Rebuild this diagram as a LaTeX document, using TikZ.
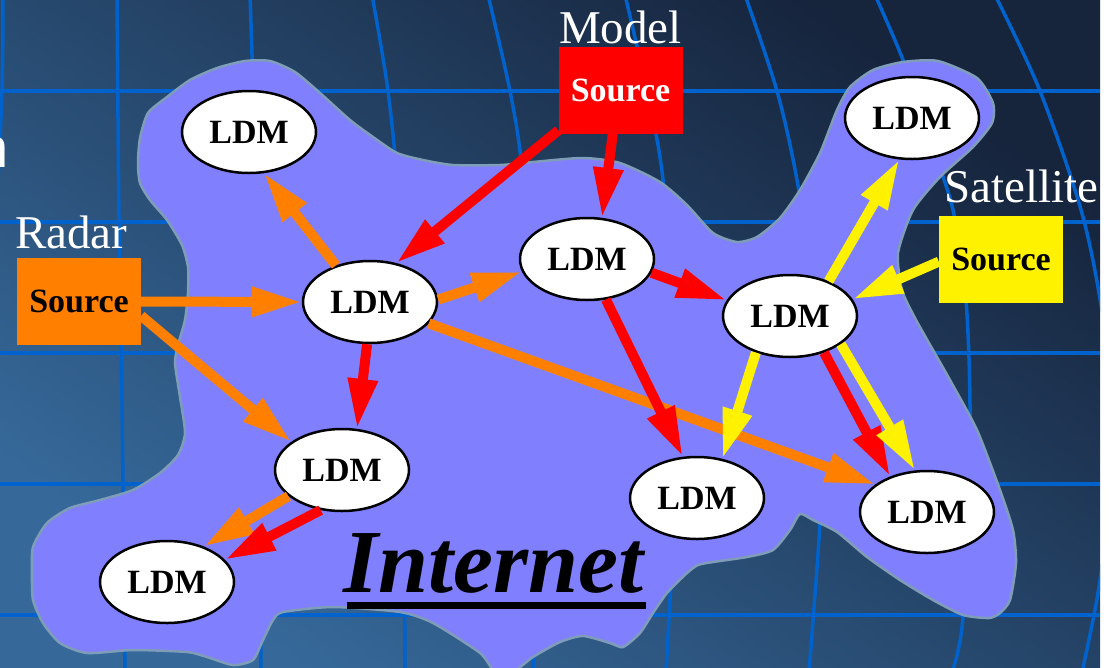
\documentclass[tikz,border=0pt]{standalone}
\usepackage{fontspec}
\setmainfont{Liberation Serif}
\newfontfamily\titlefont{Liberation Sans}
\usetikzlibrary{arrows.meta,shapes.geometric}

\definecolor{bgtop}{HTML}{16243C}
\definecolor{bgmid}{HTML}{2B5685}
\definecolor{bgbot}{HTML}{36699A}
\definecolor{gridblue}{HTML}{0062CC}
\definecolor{cloudfill}{HTML}{8080FF}
\definecolor{cloudedge}{HTML}{7F9CB8}
\definecolor{feedorange}{HTML}{FF8000}
\definecolor{feedred}{HTML}{FF0000}
\definecolor{feedyellow}{HTML}{FFF200}

\begin{document}
\begin{tikzpicture}[x=1pt, y=-1pt,
  ldm/.style={ellipse, draw=black, line width=2.5pt, fill=white, minimum width=134pt, minimum height=82pt, inner sep=0pt, font=\bfseries\fontsize{34}{34}\selectfont},
  src/.style={rectangle, minimum width=124pt, minimum height=87pt, inner sep=0pt, font=\bfseries\fontsize{34}{34}\selectfont},
  lbl/.style={inner sep=0pt, text=white, font=\fontsize{47}{47}\selectfont, anchor=base west},
  feed/.style={line width=10pt, -{Triangle[length=50pt,width=28pt]}},
  gridline/.style={draw=gridblue, line width=3.5pt},
]

\useasboundingbox (0,0) rectangle (1116,667);

% background with globe grid
\shade[top color=bgtop, middle color=bgmid, bottom color=bgbot, shading angle=-35] (0,0) rectangle (1100,667);
\begin{scope}
\clip (0,0) rectangle (1100,667);
\foreach \y in {91,222,353,484,615}
  \draw[gridline] (0,\y) -- (1100,\y);
\draw[gridline] plot[smooth] coordinates {(3,-5) (2,91) (-4,222)};
\draw[gridline] plot[smooth] coordinates {(117,-5) (119,222) (122,400) (125,672)};
\draw[gridline] plot[smooth] coordinates {(250,-5) (253,91) (257,300) (260,500) (261,672)};
\draw[gridline] plot[smooth] coordinates {(372,-5) (388,91) (398,200) (403,400) (405,672)};
\draw[gridline] plot[smooth] coordinates {(488,-5) (510,91) (522,170) (532,330) (537,450) (533,672)};
\draw[gridline] plot[smooth] coordinates {(625,-5) (647,91) (663,180) (675,350) (677,480) (670,600) (666,672)};
\draw[gridline] plot[smooth] coordinates {(745,-5) (777,91) (797,180) (815,300) (822,430) (820,523) (809,672)};
\draw[gridline] plot[smooth] coordinates {(875,-5) (903,60) (930,140) (953,210) (966,300) (970,430) (963,617) (952,672)};
\draw[gridline] plot[smooth] coordinates {(995,-5) (1040,91) (1083,217) (1105,333) (1112,450) (1100,580) (1082,672)};
\end{scope}

% cut-off title letter
\node[anchor=base east, inner sep=0pt, text=white, font=\titlefont\fontsize{56}{56}\selectfont] (title) at (9,167) {n};

% internet cloud
\draw[fill=cloudfill, draw=cloudedge, line width=2.5pt] plot[smooth cycle, tension=0.4] coordinates {
  (148,113) (167,97) (190,80) (217,68) (245,61) (270,61) (295,72) (320,93) (350,120) (373,137)
  (397,153) (423,160) (453,165) (500,165) (533,162) (583,158) (620,163) (660,182) (687,205)
  (713,233) (737,242) (757,237) (780,218) (800,190) (820,153) (837,110) (850,87) (873,70)
  (903,62) (938,61) (977,78) (993,103) (992,123) (973,147) (940,177) (913,210) (898,253)
  (902,290) (915,318) (933,350) (950,380) (977,430) (1000,490) (1013,530) (1016,563)
  (1010,600) (1000,613) (989,618) (963,615) (933,600) (900,580) (867,557) (837,532) (813,520)
  (800,514) (790,530) (773,550) (747,557) (713,562) (698,565) (687,573) (667,593) (653,613)
  (640,633) (623,647) (610,643) (583,636) (560,642) (533,657) (513,672) (495,672) (480,653)
  (433,623) (400,612) (333,607) (283,612) (273,620) (263,640) (253,660) (233,665) (207,657)
  (187,652) (133,650) (87,653) (60,643) (43,623) (33,600) (32,573) (33,547) (47,523) (70,508)
  (100,500) (133,490) (160,473) (178,455) (185,433) (180,397) (175,363) (178,345) (185,320)
  (188,293) (188,267) (182,245) (167,220) (150,200) (140,183) (138,163) (140,138)};

% ldm nodes
\node[ldm] (ldm1) at (249,132) {LDM};
\node[ldm] (ldm2) at (370,302) {LDM};
\node[ldm] (ldm3) at (587,259) {LDM};
\node[ldm] (ldm4) at (790,316) {LDM};
\node[ldm] (ldm5) at (912,118) {LDM};
\node[ldm] (ldm6) at (342,470) {LDM};
\node[ldm] (ldm7) at (167,582) {LDM};
\node[ldm] (ldm8) at (697,498) {LDM};
\node[ldm] (ldm9) at (927,512) {LDM};

% sources
\node[src, fill=feedorange] (rsrc) at (79,301.5) {Source};
\node[src, fill=feedred, text=white] (msrc) at (620.5,90) {Source};
\node[src, fill=feedyellow] (ssrc) at (1001,259.5) {Source};
\node[lbl] (rlbl) at (15,248) {Radar};
\node[lbl] (mlbl) at (559,43) {Model};
\node[lbl] (slbl) at (944,202) {Satellite};

% radar feed
\draw[feed, feedorange] (rsrc.east) -- (ldm2.west);
\draw[feed, feedorange] (rsrc.-13) -- (ldm6.151);
\draw[feed, feedorange] (ldm2.133) -- (ldm1.-70);
\draw[feed, feedorange] (ldm2.2) -- (ldm3.191);
\draw[feed, feedorange] (ldm2.-20) -- (ldm9.152);
\draw[feed, feedorange] (ldm6.206) -- (ldm7.44);

% model feed
\draw[feed, feedred] (msrc.213) -- (ldm2.56);
\draw[feed, feedred] (msrc.260) -- (ldm3.70);
\draw[feed, feedred] (ldm2.266) -- (ldm6.70);
\draw[feed, feedred] (ldm3.-12) -- (ldm4.166);
\draw[feed, feedred] (ldm3.-65) -- (ldm8.109);
\draw[feed, feedred] (ldm4.-47) -- (ldm9.136);
\draw[feed, feedred] (ldm6.242) -- (ldm7.21);

% satellite feed
\draw[feed, feedyellow] (ssrc.182) -- (ldm4.15);
\draw[feed, feedyellow] (ldm4.42) -- (ldm5.253);
\draw[feed, feedyellow] (ldm4.227) -- (ldm8.57);
\draw[feed, feedyellow] (ldm4.-29) -- (ldm9.106);

% internet label
\node[anchor=base west, inner sep=0pt, font=\bfseries\itshape\fontsize{90}{90}\selectfont] (inet) at (343,592) {Internet};
\fill (347,602) rectangle (646,609);

\end{tikzpicture}
\end{document}
